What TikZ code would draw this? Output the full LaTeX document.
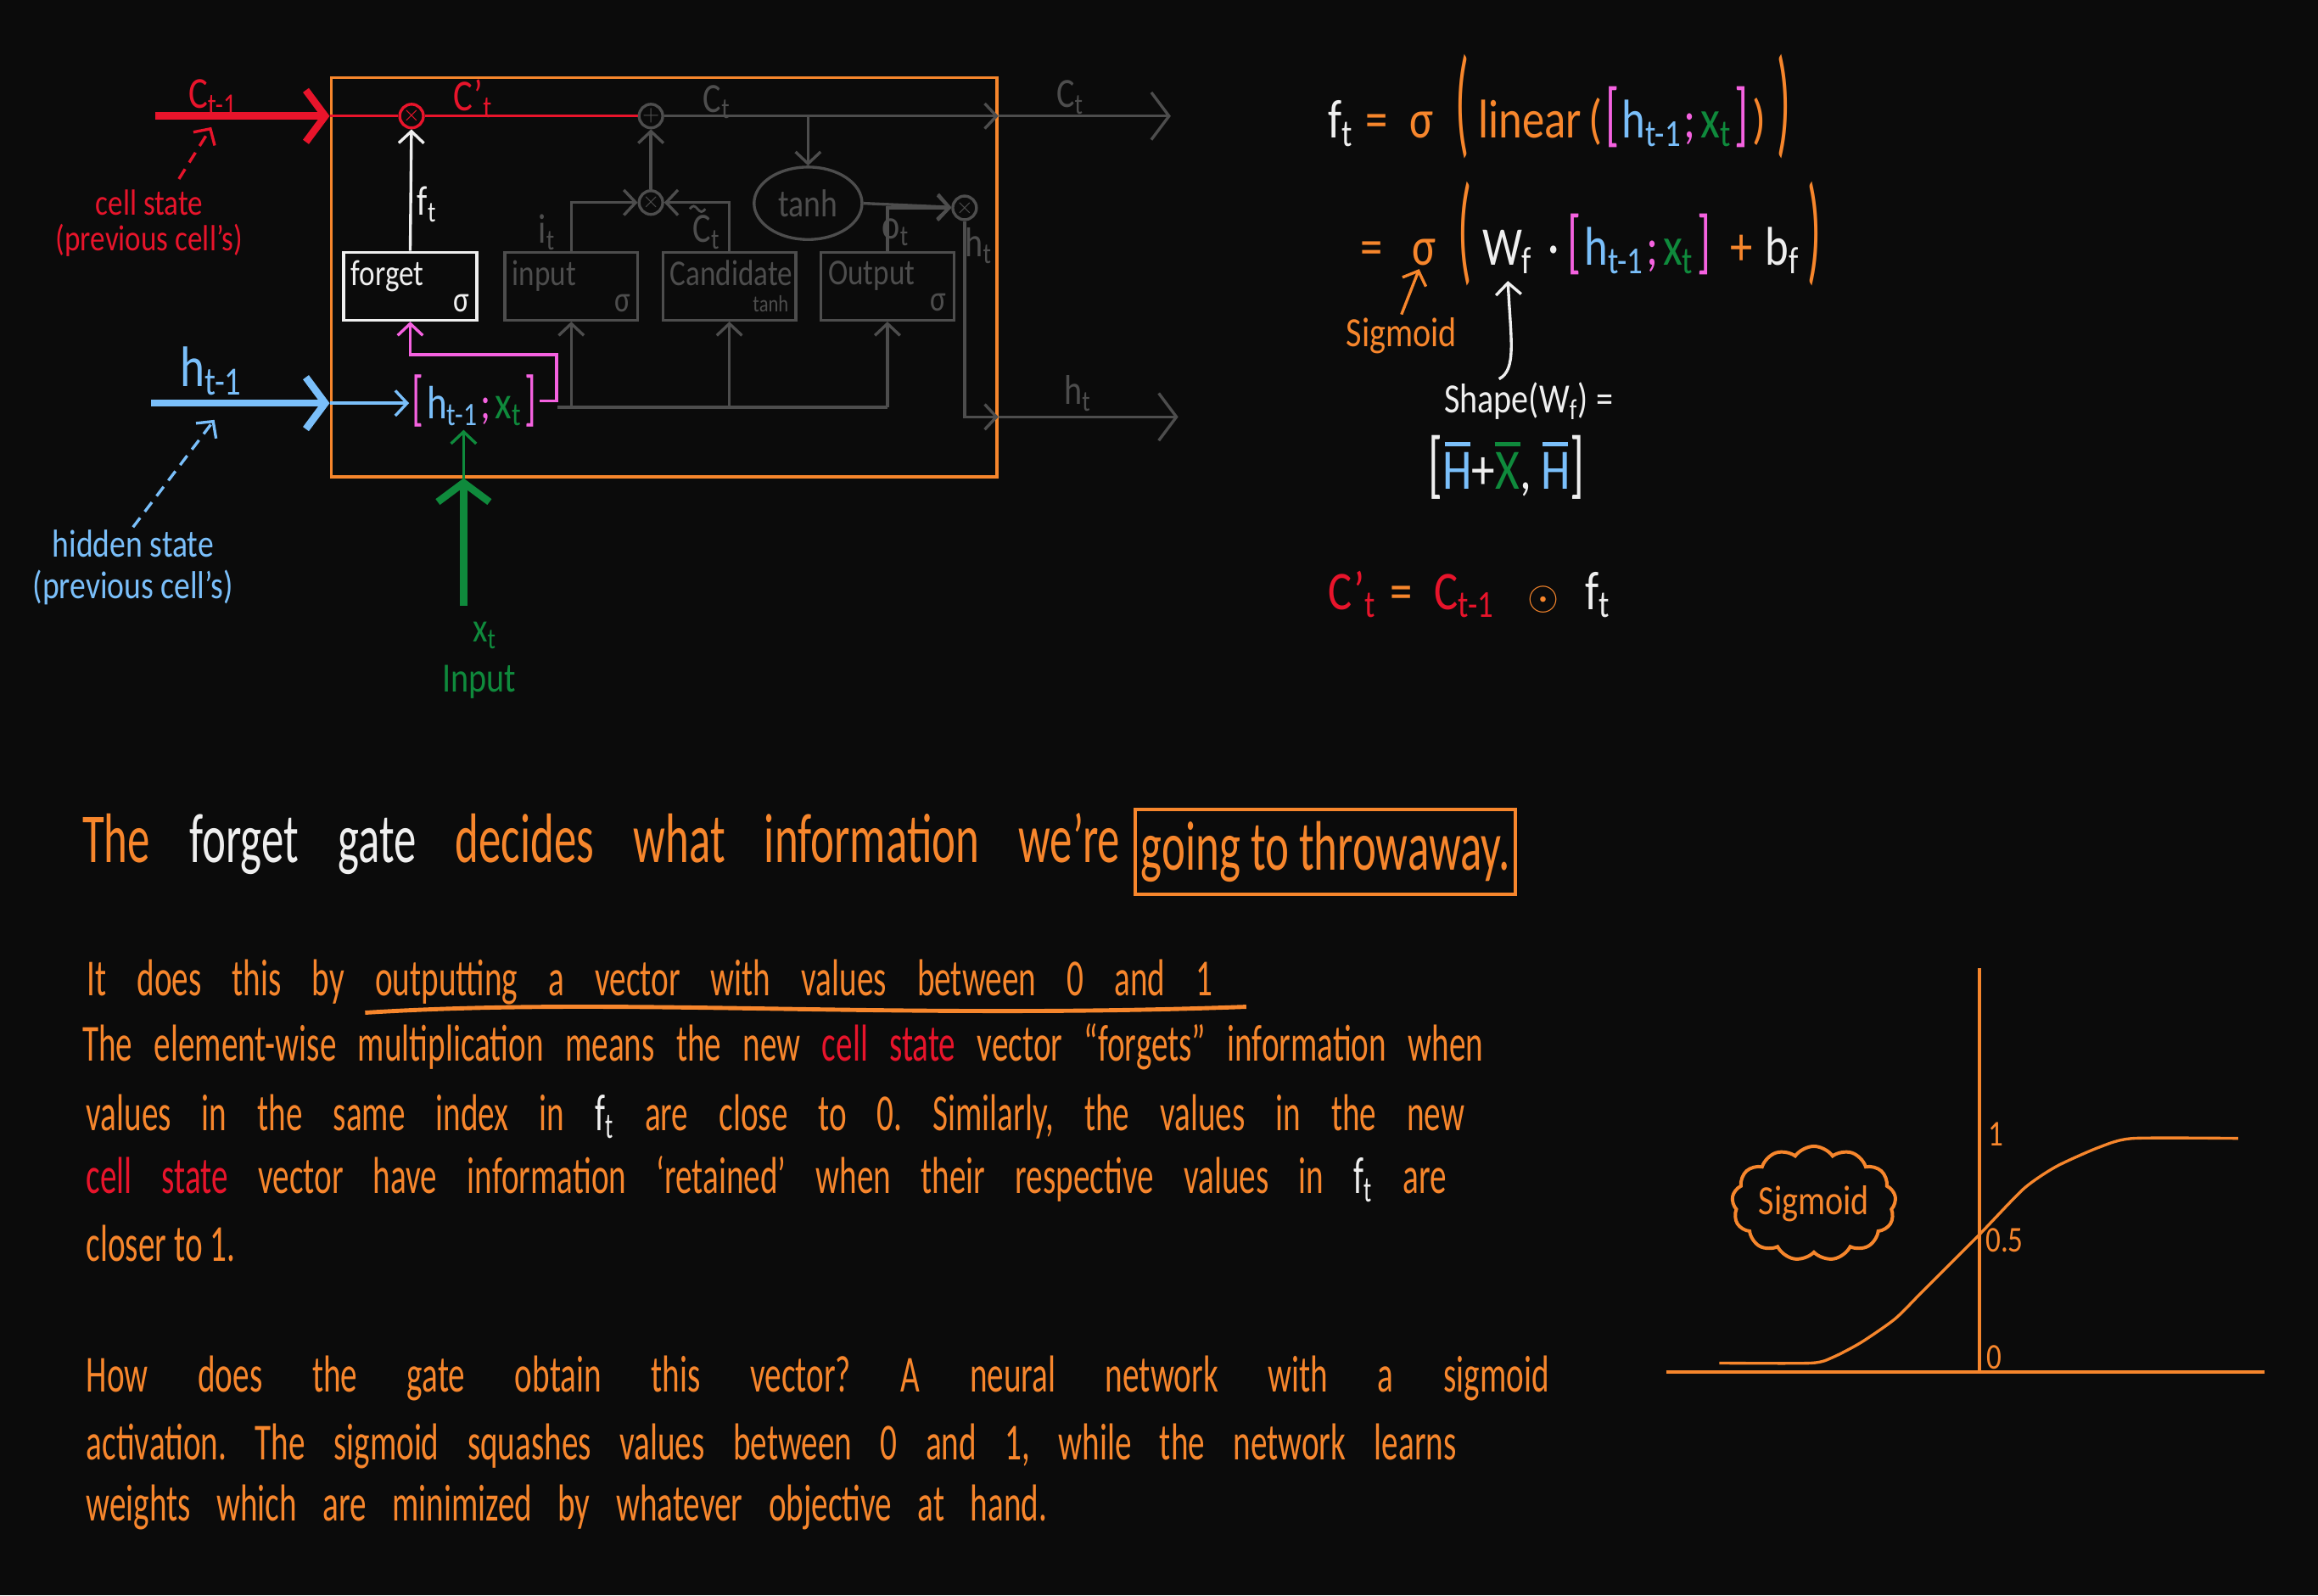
\documentclass[tikz,border=0pt]{standalone}
\usepackage{fontspec}
\setmainfont[FakeStretch=0.82]{Carlito}
\newfontfamily\handfont[Ligatures=TeX,FakeStretch=0.64]{Carlito}
\usepackage{graphicx}
\usetikzlibrary{positioning,arrows.meta,shapes.geometric,shapes.symbols}
\definecolor{bgblack}{HTML}{0B0B0B}
\definecolor{penorange}{HTML}{F7862C}
\definecolor{penred}{HTML}{E8142B}
\definecolor{penblue}{HTML}{7ABFFA}
\definecolor{penpink}{HTML}{F562E0}
\definecolor{pengreen}{HTML}{0F8A3C}
\definecolor{pengray}{HTML}{4D4D4D}
\definecolor{penwhite}{HTML}{EFEFEF}
\frenchspacing
\newcommand{\hcat}{\textcolor{penpink}{\scalebox{1}[1.3]{[}}\hspace{0.4mm}\textcolor{penblue}{h\textsubscript{t-1}}\textcolor{penpink}{\hspace{0.3mm};\hspace{0.6mm}}\textcolor{pengreen}{x\textsubscript{t}}\hspace{0.4mm}\textcolor{penpink}{\scalebox{1}[1.3]{]}}}
\newcommand{\bigpar}[1]{\raisebox{-0.15ex}{\scalebox{1}[2.2]{#1}}}
\newcommand{\accmark}[3]{\ooalign{#3\cr\hidewidth\raisebox{#1}{#2}\hidewidth\cr}}
\newcommand{\barred}[1]{\accmark{0.74em}{\rule{0.45em}{0.08em}}{#1}}

\begin{document}
\begin{tikzpicture}[x=0.2mm,y=-0.2mm,
 wire/.style={line width=1.1pt},
 fat/.style={line width=2.8pt},
 tip/.style={-{Straight Barb[length=1.6mm,width=3.4mm]}},
 bigtip/.style={-{Straight Barb[length=2.6mm,width=7mm]}},
 outtip/.style={-{Straight Barb[length=2.4mm,width=6.4mm]}},
 gatebox/.style={draw,line width=1.1pt,minimum width=18mm,minimum height=9.2mm,text width=16mm,align=left,inner sep=1.5pt,font=\fontsize{14}{13}\selectfont},
 opnode/.style={draw,circle,line width=1.1pt,minimum size=3.2mm,inner sep=0pt,font=\fontsize{8}{8}\selectfont},
 lab/.style={inner sep=1pt,font=\fontsize{16}{18}\selectfont},
 ann/.style={align=center,inner sep=1pt,font=\fontsize{14}{14}\selectfont},
 eqn/.style={anchor=west,inner sep=0pt,text=penorange,font=\fontsize{21}{24}\selectfont},
 para/.style={anchor=base west,inner sep=0pt,text=penorange,font=\handfont\fontsize{20}{24}\selectfont}]
\useasboundingbox (0,0) rectangle (1568,1079);
\fill[bgblack] (0,0) rectangle (1568,1079);

% the cell
\node[draw=penorange,line width=1.1pt,minimum width=90.1mm,minimum height=54mm] (cell) at (449.2,187.5) {};
\node[gatebox,draw=penwhite,text=penwhite] (fgate) at (277.5,193.6) {forget\\[-3pt]\hspace*{\fill}σ};
\node[gatebox,draw=pengray,text=pengray,right=3.4mm of fgate] (igate) {input\\[-3pt]\hspace*{\fill}σ};
\node[gatebox,draw=pengray,text=pengray,right=3mm of igate] (cgate) {Candidate\\[-3pt]\hspace*{\fill}{\fontsize{9}{9}\selectfont tanh}};
\node[gatebox,draw=pengray,text=pengray,right=3mm of cgate] (ogate) {Output\\[-3pt]\hspace*{\fill}σ};
\node[opnode,draw=penred,text=penred] (mulf) at (278.4,78.5) {$\times$};
\node[opnode,draw=pengray,text=pengray] (addc) at (440.3,78.5) {$+$};
\node[opnode,draw=pengray,text=pengray] (muli) at (440.3,137) {$\times$};
\node[opnode,draw=pengray,text=pengray] (mulo) at (652.5,140.6) {$\times$};
\node[ellipse,draw=pengray,text=pengray,line width=1.1pt,minimum width=14.6mm,minimum height=9.8mm,inner sep=0pt,font=\fontsize{15}{15}\selectfont] (tanhc) at (546.6,137.5) {tanh};
\node[lab,font=\fontsize{18}{20}\selectfont] (cat) at (321,271) {\hcat};
\coordinate (cin) at (105,78.5);
\coordinate (cout) at (792,78.5);
\coordinate (hin) at (102.3,272.7);
\coordinate (hout) at (797,282);
\coordinate (xin) at (313.6,409.5);
\coordinate (pinkturn) at (376.5,240);
\coordinate (bus) at (377,275.5);
\coordinate (cpoint) at (143,86);
\coordinate (hpoint) at (145,284);
\coordinate (sigpoint) at (960,182);
\coordinate (wpoint) at (1020,190);

% cell state and hidden state paths
\draw[fat,penred,bigtip] (cin) -- (cell.west |- mulf);
\draw[wire,penred] (cell.west |- mulf) -- (mulf) -- (addc);
\draw[wire,pengray,tip] (addc) -- (cell.east |- addc);
\draw[wire,pengray,outtip] (cell.east |- addc) -- (cout);
\draw[wire,pengray,tip] (tanhc |- addc) -- (tanhc);
\draw[wire,pengray,tip] (tanhc.east) -- (mulo);
\draw[wire,pengray,tip] (ogate.north) |- (mulo);
\draw[wire,pengray,tip] (muli) -- (addc);
\draw[wire,pengray,tip] (igate.north) |- (muli);
\draw[wire,pengray,tip] (cgate.north) |- (muli);
\draw[wire,penwhite,tip] (fgate.north) -- (mulf);
\draw[wire,pengray,tip] (mulo) |- (cell.east |- hout);
\draw[wire,pengray,outtip] (cell.east |- hout) -- (hout);
\draw[fat,penblue,bigtip] (hin) -- (cell.west |- hin);
\draw[wire,penblue,tip] (cell.west |- hin) -- (cat.west |- hin);
\draw[wire,penpink,tip] (cat.east) -| (pinkturn) -| (fgate.south);
\draw[wire,pengray] (bus) -- (ogate.south |- bus);
\draw[wire,pengray,tip] (igate.south |- bus) -- (igate.south);
\draw[wire,pengray,tip] (cgate.south |- bus) -- (cgate.south);
\draw[wire,pengray,tip] (ogate.south |- bus) -- (ogate.south);
\draw[fat,pengreen,bigtip] (xin) -- (xin |- cell.south);
\draw[wire,pengreen,tip] (xin |- cell.south) -- (xin |- cat.south);

% labels
\node[lab,penred,font=\fontsize{17}{18}\selectfont] (cprev) at (144,66) {C\textsubscript{t-1}};
\node[lab,penred,font=\fontsize{17}{18}\selectfont] (cprime) at (320,67) {C'\textsubscript{t}};
\node[lab,pengray] (ctin) at (485,69) {C\textsubscript{t}};
\node[lab,pengray] (ctout) at (724,66) {C\textsubscript{t}};
\node[lab,penwhite] (flab) at (289,138) {f\textsubscript{t}};
\node[lab,pengray] (ilab) at (370,157) {i\textsubscript{t}};
\node[lab,pengray] (clab) at (478,157) {C\textsubscript{t}};
\draw[line width=0.9pt,pengray] ([shift={(-6.5pt,1.2pt)}]clab.north) sin ++(1.5pt,1.1pt) cos ++(1.5pt,-1.1pt) sin ++(1.5pt,-1.1pt) cos ++(1.5pt,1.1pt);
\node[lab,pengray] (olab) at (606,157) {o\textsubscript{t}};
\node[lab,pengray] (hlab) at (662,166) {h\textsubscript{t}};
\node[lab,pengray] (htout) at (729,266) {h\textsubscript{t}};
\node[lab,penblue,font=\fontsize{22}{24}\selectfont] (hprev) at (143,251) {h\textsubscript{t-1}};
\node[lab,pengreen] (xlab) at (328,430) {x\textsubscript{t}};
\node[lab,pengreen] (inlab) at (324,461) {Input};
\node[ann,penred] (cnote) at (101,151) {cell state\\(previous cell's)};
\node[ann,penblue,font=\fontsize{15}{16}\selectfont] (hnote) at (90,384) {hidden state\\(previous cell's)};
\draw[wire,penred,dash pattern=on 4.5pt off 3pt,tip] ([shift={(4mm,1mm)}]cnote.north) -- (cpoint);
\draw[wire,penblue,dash pattern=on 4.5pt off 3pt,tip] (hnote.north) -- (hpoint);

% equations
\node[eqn] (eqf) at (898,72) {\textcolor{penwhite}{f\textsubscript{t}}\hspace{1.6mm}=\hspace{3mm}σ\hspace{3mm}\bigpar{(}\hspace{1.2mm}linear\hspace{1mm}(\hspace{0.4mm}\hcat\hspace{0.6mm})\hspace{1.4mm}\bigpar{)}};
\node[eqn] (eqw) at (920,158) {=\hspace{4mm}σ\hspace{3mm}\bigpar{(}\hspace{1.4mm}\textcolor{penwhite}{W\textsubscript{f}\hspace{2mm}·}\hspace{1.2mm}\hcat\hspace{2.6mm}+\hspace{1.8mm}\textcolor{penwhite}{b\textsubscript{f}}\hspace{1mm}\bigpar{)}};
\node[lab,penorange] (sigtxt) at (948,227) {Sigmoid};
\draw[wire,penorange,tip] (sigtxt.north) -- (sigpoint);
\node[lab,penwhite] (wshape) at (1034,271) {Shape(W\textsubscript{f}) =};
\draw[wire,penwhite,tip] ([xshift=-4mm]wshape.north) .. controls (1026,250) and (1022,230) .. (wpoint);
\node[lab,penwhite,font=\fontsize{22}{24}\selectfont] (wdim) at (1019,316) {\scalebox{1}[1.3]{[}\textcolor{penblue}{\barred{H}}+\textcolor{pengreen}{\barred{X}},\,\textcolor{penblue}{\barred{H}}\scalebox{1}[1.3]{]}};
\node[eqn] (eqc) at (898,402) {\textcolor{penred}{C'\textsubscript{t}}\hspace{1.8mm}=\hspace{3mm}\textcolor{penred}{C\textsubscript{t-1}}\hspace{4.4mm}\scalebox{0.75}{$\odot$}\hspace{3.6mm}\textcolor{penwhite}{f\textsubscript{t}}};

% text
\node[para,font=\handfont\fontsize{27}{30}\selectfont] (head) at (55.4,583.6) {\makebox[140.4mm][s]{The \textcolor{penwhite}{forget gate} decides what information we're}};
\node[draw=penorange,line width=1.3pt,anchor=west,minimum width=51.4mm,minimum height=11.5mm,inner sep=0pt,text=penorange,font=\handfont\fontsize{27}{30}\selectfont] (throw) at (767,576) {going to throwaway.};
\node[para] (p1) at (58.5,673.5) {\makebox[152.3mm][s]{It does this by outputting a vector with values between 0 and 1}};
\draw[penorange,line width=1.6pt] (247,685) .. controls (420,674) and (600,690) .. (843,681);
\node[para] (p2) at (55.5,717.6) {\makebox[189.5mm][s]{The element-wise multiplication means the new \textcolor{penred}{cell state} vector ``forgets'' information when}};
\node[para] (p3) at (58,764.5) {\makebox[186.5mm][s]{values in the same index in \textcolor{penwhite}{f\textsubscript{t}} are close to 0. Similarly, the values in the new}};
\node[para] (p4) at (58,807.5) {\makebox[184mm][s]{\textcolor{penred}{cell state} vector have information `retained' when their respective values in \textcolor{penwhite}{f\textsubscript{t}} are}};
\node[para] (p5) at (58,853.4) {closer to 1.};
\node[para] (p6) at (58,941.5) {\makebox[197.9mm][s]{How does the gate obtain this vector? A neural network with a sigmoid}};
\node[para] (p7) at (58,987.4) {\makebox[185.4mm][s]{activation. The sigmoid squashes values between 0 and 1, while the network learns}};
\node[para] (p8) at (58,1029) {\makebox[130mm][s]{weights which are minimized by whatever objective at hand.}};

% sigmoid sketch
\draw[wire,penorange] (1127,928) -- (1532,928);
\draw[wire,penorange] (1339,655) -- (1339,928);
\draw[wire,penorange,line join=round] plot[smooth,tension=0.4] coordinates {(1163,922) (1225,922) (1240,918) (1259,908) (1282,892) (1301,873) (1339,835) (1369,804) (1391,789) (1420,776) (1443,770) (1514,770)};
\node[lab,penorange,font=\fontsize{14}{14}\selectfont,anchor=west] (one) at (1343,767) {1};
\node[lab,penorange,font=\fontsize{14}{14}\selectfont,anchor=west] (half) at (1341,839) {0.5};
\node[lab,penorange,font=\fontsize{14}{14}\selectfont,anchor=west] (zero) at (1342,918) {0};
\node[cloud,draw=penorange,text=penorange,line width=1.3pt,cloud puffs=13,cloud puff arc=110,aspect=1.6,minimum width=22mm,minimum height=14mm,inner sep=0pt,font=\fontsize{16}{18}\selectfont] (sigcloud) at (1227,814) {Sigmoid};
\end{tikzpicture}
\end{document}
